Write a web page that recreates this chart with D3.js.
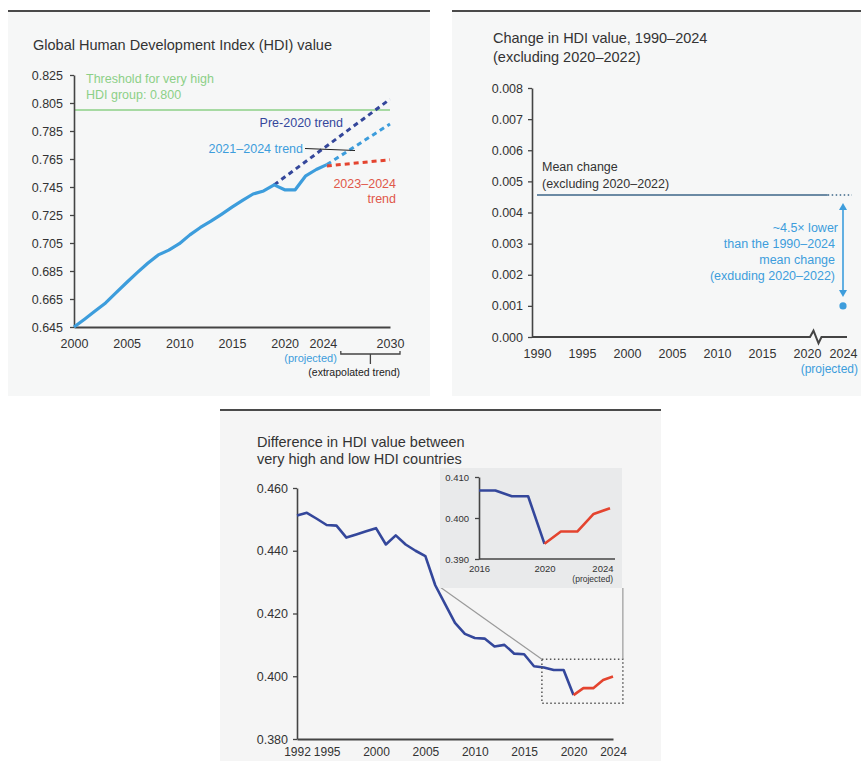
<!DOCTYPE html>
<html>
<head>
<meta charset="utf-8">
<script src="https://cdn.jsdelivr.net/npm/d3@7"></script>
<style>
body { margin: 0; background: #fff; }
svg text { font-family: "Liberation Sans", Arial, sans-serif; fill: #333; }
</style>
</head>
<body>
<svg id="chart" width="861" height="761"></svg>
<script>
// global HDI value, 2000-2024 (2024 projected)
var hdiYears = [2000, 2001, 2002, 2003, 2004, 2005, 2006, 2007, 2008, 2009, 2010, 2011, 2012,
    2013, 2014, 2015, 2016, 2017, 2018, 2019, 2020, 2021, 2022, 2023, 2024];
var hdiValues = [0.645, 0.6506, 0.6564, 0.6622, 0.6695, 0.6768, 0.6838, 0.6905, 0.6965, 0.6999,
    0.7045, 0.7108, 0.7161, 0.7206, 0.7255, 0.7306, 0.7354, 0.7400, 0.7422, 0.7465,
    0.7430, 0.7430, 0.7530, 0.7575, 0.7610];
var pre2020Years = [2019, 2030];
var pre2020Trend = [0.7465, 0.8077];
var trendYears = [2024, 2030];
var trend2124 = [0.761, 0.790];
var trend2324 = [0.760, 0.7645];
var hdiThreshold = 0.800;
var hdiTicks = [0.645, 0.665, 0.685, 0.705, 0.725, 0.745, 0.765, 0.785, 0.805, 0.825];
var hdiYearTicks = [2000, 2005, 2010, 2015, 2020, 2024, 2030];

// change in HDI value
var changeTicks = [0, 0.001, 0.002, 0.003, 0.004, 0.005, 0.006, 0.007, 0.008];
var changeYearTicks = [1990, 1995, 2000, 2005, 2010, 2015, 2020, 2024];
var meanChange = 0.00456;
var change2024 = 0.001;

// difference between very high and low HDI groups
var gapYears = [1992, 1993, 1994, 1995, 1996, 1997, 1998, 1999, 2000, 2001, 2002, 2003, 2004,
    2005, 2006, 2007, 2008, 2009, 2010, 2011, 2012, 2013, 2014, 2015, 2016, 2017, 2018,
    2019, 2020, 2021, 2022, 2023, 2024];
var gapValues = [0.4512, 0.4521, 0.4502, 0.4482, 0.4480, 0.4442, 0.4452, 0.4462, 0.4472, 0.4420,
    0.4449, 0.4420, 0.4400, 0.4383, 0.4290, 0.4230, 0.4170, 0.4135, 0.4122, 0.4120, 0.4095,
    0.4100, 0.4072, 0.4070, 0.4032, 0.4028, 0.4020, 0.4020, 0.3940, 0.3962, 0.3962, 0.3988, 0.3999];
var gapTicks = [0.380, 0.400, 0.420, 0.440, 0.460];
var gapYearTicks = [1992, 1995, 2000, 2005, 2010, 2015, 2020, 2024];
var insetYears = [2016, 2017, 2018, 2019, 2020, 2021, 2022, 2023, 2024];
var insetValues = [0.4067, 0.4067, 0.4053, 0.4053, 0.3937, 0.3967, 0.3967, 0.4010, 0.4024];
var insetTicks = [0.390, 0.400, 0.410];
var insetYearTicks = [2016, 2020, 2024];

var navy = "#34479b", blue = "#3d9ddc", red = "#e4442f", green = "#8cd087";

var svg = d3.select("#chart");

function panel(x0, x1, y0, y1, fill) {
    svg.append("rect").attr("x", x0).attr("y", y0).attr("width", x1 - x0).attr("height", y1 - y0)
        .attr("fill", fill);
    svg.append("line").attr("x1", x0).attr("x2", x1).attr("y1", y0 - 1).attr("y2", y0 - 1)
        .attr("stroke", "#4a4a4a").attr("stroke-width", 2.2);
}

function styleAxis(g) {
    g.select(".domain").attr("stroke", "#444").attr("stroke-width", 1.6);
    g.selectAll(".tick line").attr("stroke", "#444").attr("stroke-width", 1.3);
    g.selectAll("text").style("font-size", "12.5px").attr("fill", "#333");
}

function addText(x, y, str, color, size, anchor) {
    return svg.append("text").attr("x", x).attr("y", y).text(str)
        .style("fill", color).style("font-size", size + "px")
        .attr("text-anchor", anchor || "start");
}

panel(8, 430, 12, 396, "#f6f7f7");
panel(452, 861, 12, 396, "#f6f7f7");
panel(220, 661, 411, 761, "#f5f5f5");

// ---------- top left: global HDI ----------
var x1 = d3.scaleLinear().domain([2000, 2030]).range([74, 390]);
var y1 = d3.scaleLinear().domain([0.645, 0.825]).range([327, 75]);

addText(33, 50, "Global Human Development Index (HDI) value", "#333", 14.5);

svg.append("line").attr("x1", x1(2000)).attr("x2", x1(2030))
    .attr("y1", y1(hdiThreshold)).attr("y2", y1(hdiThreshold))
    .attr("stroke", green).attr("stroke-width", 1.5);
addText(86, 83, "Threshold for very high", green, 12.5);
addText(86, 99, "HDI group: 0.800", green, 12.5);

var yAx1 = svg.append("g").attr("transform", "translate(" + x1(2000) + ",0)")
    .call(d3.axisLeft(y1).tickValues(hdiTicks).tickSize(4).tickSizeOuter(0)
        .tickPadding(7).tickFormat(d3.format(".3f")));
styleAxis(yAx1);

var xAx1 = svg.append("g").attr("transform", "translate(0," + y1(0.645) + ")")
    .call(d3.axisBottom(x1).tickValues(hdiYearTicks).tickSize(0).tickSizeOuter(0)
        .tickFormat(d3.format("d")));
styleAxis(xAx1);
xAx1.select(".domain").attr("stroke-width", 2);
xAx1.selectAll("text").attr("dy", null).attr("y", 21);
xAx1.selectAll(".tick").filter(function(d) { return d === 2024; }).select("text")
    .attr("fill", blue).attr("text-anchor", "end").attr("x", 10);
addText(x1(2024) + 10, 362, "(projected)", blue, 11, "end");

// bracket for extrapolated trend
var bx0 = x1(2024) + 14, bx1 = x1(2030) + 10, bmid = (bx0 + bx1) / 2;
svg.append("path")
    .attr("d", "M" + bx0 + ",351 V354 H" + bx1 + " V351 M" + bmid + ",354 V364")
    .attr("fill", "none").attr("stroke", "#444").attr("stroke-width", 1.3);
addText(bx1, 376, "(extrapolated trend)", "#222", 10.5, "end");

var line1 = d3.line().x(function(d) { return x1(d[0]); }).y(function(d) { return y1(d[1]); });

svg.append("path").datum(d3.zip(pre2020Years, pre2020Trend)).attr("d", line1)
    .attr("fill", "none").attr("stroke", navy).attr("stroke-width", 3).attr("stroke-dasharray", "5,4");
svg.append("path").datum(d3.zip(trendYears, trend2124)).attr("d", line1)
    .attr("fill", "none").attr("stroke", blue).attr("stroke-width", 3).attr("stroke-dasharray", "5,4");
svg.append("path").datum(d3.zip(trendYears, trend2324)).attr("d", line1)
    .attr("fill", "none").attr("stroke", red).attr("stroke-width", 3).attr("stroke-dasharray", "5,4");
svg.append("path").datum(d3.zip(hdiYears, hdiValues)).attr("d", line1)
    .attr("fill", "none").attr("stroke", blue).attr("stroke-width", 3.2)
    .attr("stroke-linejoin", "round");

addText(343, 127, "Pre-2020 trend", navy, 12.5, "end");
addText(303, 153, "2021\u20132024 trend", blue, 12.5, "end");
svg.append("line").attr("x1", 305).attr("y1", 148.5).attr("x2", 355).attr("y2", 150.5)
    .attr("stroke", "#222").attr("stroke-width", 1);
addText(396, 188, "2023\u20132024", "#e0584a", 12.5, "end");
addText(396, 203, "trend", "#e0584a", 12.5, "end");

// ---------- top right: change in HDI ----------
var x2 = d3.scaleLinear().domain([1990, 2024]).range([537, 843]);
var y2 = d3.scaleLinear().domain([0, 0.008]).range([337, 88]);

addText(493, 43, "Change in HDI value, 1990\u20132024", "#333", 14.5);
addText(493, 62, "(excluding 2020\u20132022)", "#333", 14.5);

var yAx2 = svg.append("g").attr("transform", "translate(532,0)")
    .call(d3.axisLeft(y2).tickValues(changeTicks).tickSize(4).tickSizeOuter(0)
        .tickPadding(5).tickFormat(d3.format(".3f")));
styleAxis(yAx2);

var xAx2 = svg.append("g").attr("transform", "translate(0," + y2(0) + ")")
    .call(d3.axisBottom(x2).tickValues(changeYearTicks).tickSize(0).tickFormat(d3.format("d")));
styleAxis(xAx2);
xAx2.select(".domain").remove();
xAx2.selectAll("text").attr("dy", null).attr("y", 21);
xAx2.selectAll(".tick").filter(function(d) { return d === 2024; }).select("text").attr("fill", blue);
addText(858, 373, "(projected)", blue, 12, "end");

// x axis with break
var ax0 = y2(0);
svg.append("path")
    .attr("d", "M532," + ax0 + " H810 L813.5," + (ax0 - 6.3) + " L818.5," + (ax0 + 6.3) +
        " L821.5," + ax0 + " H847")
    .attr("fill", "none").attr("stroke", "#444").attr("stroke-width", 2);

// mean change line
svg.append("line").attr("x1", x2(1990)).attr("x2", x2(2022.3))
    .attr("y1", y2(meanChange)).attr("y2", y2(meanChange))
    .attr("stroke", "#3c6688").attr("stroke-width", 1.6);
svg.append("line").attr("x1", x2(2022.3)).attr("x2", x2(2025))
    .attr("y1", y2(meanChange)).attr("y2", y2(meanChange))
    .attr("stroke", "#3c6688").attr("stroke-width", 1.4).attr("stroke-dasharray", "1.5,2.5");
addText(542, 171, "Mean change", "#333", 12.5);
addText(542, 188, "(excluding 2020\u20132022)", "#333", 12.5);

// arrow from mean to 2024 value
var axx = x2(2024), topY = y2(meanChange) + 8, botY = y2(change2024) - 9;
svg.append("line").attr("x1", axx).attr("x2", axx).attr("y1", topY + 5).attr("y2", botY - 5)
    .attr("stroke", blue).attr("stroke-width", 1.6);
svg.append("path").attr("d", "M" + axx + "," + topY + " l-4,7 h8 z").attr("fill", blue);
svg.append("path").attr("d", "M" + axx + "," + botY + " l-4,-7 h8 z").attr("fill", blue);
svg.append("circle").attr("cx", x2(2024)).attr("cy", y2(change2024)).attr("r", 3.6).attr("fill", blue);

addText(838, 232, "~4.5\u00d7 lower", blue, 12.5, "end");
addText(835, 248, "than the 1990\u20132024", blue, 12.5, "end");
addText(835, 264, "mean change", blue, 12.5, "end");
addText(835, 280, "(exduding 2020\u20132022)", blue, 12.5, "end");

// ---------- bottom: gap between very high and low HDI ----------
var x3 = d3.scaleLinear().domain([1992, 2024]).range([297, 613]);
var y3 = d3.scaleLinear().domain([0.380, 0.460]).range([739, 488]);

addText(257, 447, "Difference in HDI value between", "#333", 14.5);
addText(257, 464, "very high and low HDI countries", "#333", 14.5);

var yAx3 = svg.append("g").attr("transform", "translate(" + x3(1992) + ",0)")
    .call(d3.axisLeft(y3).tickValues(gapTicks).tickSize(4).tickSizeOuter(0)
        .tickPadding(5).tickFormat(d3.format(".3f")));
styleAxis(yAx3);

var xAx3 = svg.append("g").attr("transform", "translate(0," + y3(0.380) + ")")
    .call(d3.axisBottom(x3).tickValues(gapYearTicks).tickSize(0).tickSizeOuter(0)
        .tickFormat(d3.format("d")));
styleAxis(xAx3);
xAx3.select(".domain").attr("stroke-width", 2);
xAx3.selectAll("text").style("font-size", "12px").attr("dy", null).attr("y", 17);

var line3 = d3.line().x(function(d) { return x3(d[0]); }).y(function(d) { return y3(d[1]); });
var gapData = d3.zip(gapYears, gapValues);
svg.append("path").datum(gapData.filter(function(d) { return d[0] <= 2020; })).attr("d", line3)
    .attr("fill", "none").attr("stroke", navy).attr("stroke-width", 2.6).attr("stroke-linejoin", "round");
svg.append("path").datum(gapData.filter(function(d) { return d[0] >= 2020; })).attr("d", line3)
    .attr("fill", "none").attr("stroke", red).attr("stroke-width", 2.6).attr("stroke-linejoin", "round");

// zoom window and connectors
var zx0 = x3(2016.8), zx1 = x3(2025), zy0 = y3(0.4054), zy1 = y3(0.3914);
svg.append("rect").attr("x", zx0).attr("y", zy0).attr("width", zx1 - zx0).attr("height", zy1 - zy0)
    .attr("fill", "none").attr("stroke", "#555").attr("stroke-width", 1.5)
    .attr("stroke-dasharray", "1.5,2.5");
svg.append("line").attr("x1", 440).attr("y1", 587).attr("x2", zx0).attr("y2", zy0)
    .attr("stroke", "#9a9a9a").attr("stroke-width", 1.2);
svg.append("line").attr("x1", zx1).attr("y1", 588).attr("x2", zx1).attr("y2", zy0)
    .attr("stroke", "#9a9a9a").attr("stroke-width", 1.2);

// inset
svg.append("rect").attr("x", 440).attr("y", 468).attr("width", 182).attr("height", 120)
    .attr("fill", "#e9eaeb");
var x4 = d3.scaleLinear().domain([2016, 2024]).range([479, 610]);
var y4 = d3.scaleLinear().domain([0.390, 0.410]).range([559, 477]);

var yAx4 = svg.append("g").attr("transform", "translate(479,0)")
    .call(d3.axisLeft(y4).tickValues(insetTicks).tickSize(4).tickSizeOuter(0)
        .tickPadding(6).tickFormat(d3.format(".3f")));
styleAxis(yAx4);
yAx4.selectAll("text").style("font-size", "9.5px");
var xAx4 = svg.append("g").attr("transform", "translate(0,559)")
    .call(d3.axisBottom(x4).tickValues(insetYearTicks).tickSize(0).tickSizeOuter(0)
        .tickFormat(d3.format("d")));
styleAxis(xAx4);
xAx4.select(".domain").attr("d", "M479,0H615");
xAx4.selectAll("text").style("font-size", "9.5px").attr("dy", null).attr("y", 13);
xAx4.selectAll(".tick").filter(function(d) { return d === 2024; }).select("text")
    .attr("text-anchor", "end").attr("x", 3);
addText(x4(2024) + 3, 582, "(projected)", "#333", 8.5, "end");

var line4 = d3.line().x(function(d) { return x4(d[0]); }).y(function(d) { return y4(d[1]); });
var insetData = d3.zip(insetYears, insetValues);
svg.append("path").datum(insetData.filter(function(d) { return d[0] <= 2020; })).attr("d", line4)
    .attr("fill", "none").attr("stroke", navy).attr("stroke-width", 2.6).attr("stroke-linejoin", "round");
svg.append("path").datum(insetData.filter(function(d) { return d[0] >= 2020; })).attr("d", line4)
    .attr("fill", "none").attr("stroke", red).attr("stroke-width", 2.6).attr("stroke-linejoin", "round");
</script>
</body>
</html>
